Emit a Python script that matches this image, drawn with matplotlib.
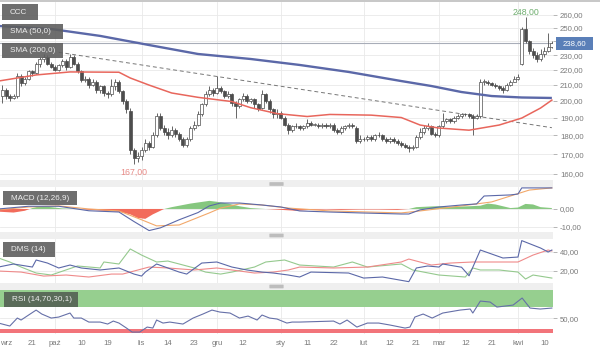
import matplotlib
matplotlib.use("Agg")
import matplotlib.pyplot as plt
from matplotlib.patches import Rectangle, FancyBboxPatch
from matplotlib.ticker import FixedLocator, NullLocator

plt.rcParams['font.family'] = ['Liberation Sans', 'DejaVu Sans']

# ---- price candles (one per session, index 0 = first visible session) ----
opens = [203, 207, 203, 202, 203, 216, 211, 214, 219, 218, 224, 227, 229, 224, 222, 220, 223, 226, 222, 229,
         224, 219, 213, 214, 210, 212, 207, 209, 205, 204, 209, 212, 206, 200, 194, 172, 168, 169, 172, 176,
         174, 180, 191, 184, 182, 180, 183, 181, 178, 175, 178, 184, 186, 192, 198, 204, 207, 205, 208, 206,
         203, 204, 199, 197, 201, 203, 200, 201, 198, 196, 204, 200, 195, 192, 193, 190, 186, 183, 185, 185,
         184, 185, 187, 186, 186, 185, 186, 185, 186, 183, 182, 184, 185, 186, 184, 177, 178, 178, 179, 178,
         180, 180, 178, 177, 178, 177, 176, 175, 174, 173, 174, 179, 182, 184, 185, 181, 180, 185, 188, 189,
         188, 190, 191, 192, 192, 191, 190, 191, 212, 212, 211, 210, 209, 208, 207, 210, 212, 214, 224, 249,
         240, 233, 230, 227, 231, 233, 236]
highs = [210, 208, 204, 204, 218, 217, 215, 220, 220, 225, 229, 231, 230, 225, 223, 224, 227, 227, 231, 230,
         225, 220, 216, 215, 214, 213, 210, 210, 206, 214, 214, 213, 207, 201, 196, 173, 171, 174, 178, 177,
         182, 193, 193, 186, 184, 185, 184, 182, 179, 179, 185, 188, 194, 199, 206, 209, 208, 216, 209, 207,
         206, 205, 200, 202, 205, 204, 202, 202, 199, 207, 205, 201, 196, 195, 194, 191, 187, 186, 187, 186,
         186, 189, 188, 187, 187, 187, 187, 187, 187, 184, 185, 186, 187, 187, 185, 180, 179, 180, 180, 181,
         182, 181, 179, 179, 179, 178, 177, 176, 175, 175, 180, 184, 186, 187, 186, 182, 186, 193, 190, 190,
         191, 192, 193, 193, 193, 192, 192, 214, 214, 213, 212, 211, 210, 209, 211, 213, 216, 217, 251, 258,
         241, 235, 232, 234, 236, 246, 240]
lows = [199, 201, 200, 201, 202, 209, 210, 213, 216, 217, 222, 225, 223, 221, 219, 219, 222, 220, 221, 223,
        218, 212, 212, 208, 209, 205, 205, 203, 202, 203, 207, 205, 198, 193, 170, 165, 166, 167, 171, 172,
        173, 179, 183, 180, 178, 179, 179, 177, 174, 174, 177, 183, 185, 191, 197, 203, 203, 204, 205, 202,
        202, 197, 190, 196, 200, 199, 199, 196, 194, 195, 199, 193, 190, 190, 189, 185, 181, 182, 184, 183,
        183, 184, 185, 185, 184, 184, 184, 184, 182, 181, 181, 183, 184, 184, 176, 176, 177, 177, 177, 177,
        179, 177, 176, 176, 176, 175, 174, 173, 171, 172, 173, 178, 181, 183, 180, 179, 179, 184, 187, 187,
        187, 189, 190, 191, 190, 180, 189, 190, 210, 210, 209, 208, 207, 205, 206, 209, 212, 213, 223, 239,
        231, 228, 225, 226, 229, 232, 235]
closes = [207, 203, 202, 203, 216, 211, 214, 219, 218, 224, 227, 229, 224, 222, 220, 223, 226, 222, 229, 224,
          219, 213, 214, 210, 212, 207, 209, 205, 204, 209, 212, 206, 200, 195, 172, 168, 169, 172, 176, 174,
          180, 191, 184, 182, 180, 183, 181, 178, 175, 178, 184, 186, 192, 198, 204, 207, 205, 208, 206, 203,
          204, 199, 197, 201, 203, 200, 201, 198, 195, 204, 200, 195, 192, 193, 190, 186, 183, 185, 185, 184,
          185, 187, 186, 186, 185, 186, 185, 186, 183, 182, 184, 185, 186, 185, 177, 178, 178, 179, 178, 180,
          180, 178, 177, 178, 177, 176, 175, 174, 173, 174, 179, 182, 184, 185, 181, 180, 185, 188, 189, 188,
          190, 191, 192, 192, 191, 190, 191, 212, 212, 211, 210, 209, 208, 207, 210, 212, 214, 215, 249, 240,
          233, 230, 227, 231, 233, 236, 238.6]

last_price = 238.6
max_label = "248,00"
min_label = "167,00"

# moving averages, read at a few sessions
sma50_idx = [-1, 9, 18, 31, 34, 39, 45, 52, 61, 66, 73, 81, 87, 98, 106, 111, 116, 124, 132, 138, 143, 146]
sma50_val = [212.5, 216.5, 218.5, 218.3, 214.5, 209.9, 204.9, 202.2, 199.6, 195.9, 192.4, 190.7, 191.9, 191.5,
             190.1, 185.8, 184.1, 182.9, 185.8, 189.8, 195.7, 200.5]
sma200_idx = [-1, 13, 26, 39, 52, 66, 79, 92, 106, 114, 122, 130, 138, 146]
sma200_val = [251.4, 249.1, 243.9, 237.2, 230.8, 227.3, 223.2, 218.5, 212.5, 209.3, 205.5, 203.0, 202.1, 201.8]
trend_idx = [15, 146]
trend_val = [232.0, 184.3]

# MACD (12,26,9)
macd_idx = [-1, 7, 15, 23, 31, 35, 39, 42, 47, 52, 55, 58, 63, 69, 74, 79, 87, 95, 106, 108, 111, 116, 122,
            126, 128, 135, 137, 138, 146]
macd_val = [0, 1.5, 1.5, -1, -1.7, -7, -12, -10.5, -6, -2, 1.7, 3.3, 3.3, 2.2, 1.1, -1.1, -1.7, -2.2, -2.8,
            -2.8, -0.5, 1.1, 2.2, 2.8, 7.2, 7.8, 8.3, 11.7, 11.7]
signal_idx = [-1, 7, 15, 23, 31, 37, 41, 47, 55, 58, 63, 69, 76, 87, 106, 111, 122, 130, 135, 140, 146]
signal_val = [-0.5, 1.1, 1.7, 0, -1.1, -6, -9.4, -8.9, -2.2, 0.5, 2.8, 2.2, 0.5, -1.1, -2.2, -1.1, 1.7, 3.9,
              7.2, 10.5, 11.7]
hist_idx = [-1, 3, 6, 8, 10, 13, 16, 20, 23, 27, 31, 34, 36, 38, 40, 42, 43, 45, 50, 55, 57, 60, 63, 66, 70,
            74, 78, 82, 86, 90, 95, 100, 105, 108, 110, 115, 120, 124, 127, 129, 131, 133, 135, 137, 139, 141,
            143, 146]
hist_val = [-1.5, -2, -1, 0.5, 1.5, 1, 0.3, 0.2, -0.5, -1, -1.5, -3, -5, -5.5, -3, -1, 0, 1, 3, 4.5, 4, 3, 1.5,
            0.5, 0, -0.5, -1, -0.5, -0.3, -0.5, -0.3, -0.3, -0.5, 0, 1, 1.5, 1.2, 1.5, 1.8, 3, 2.5, 1.5, 0.5,
            0.8, 2.8, 2.5, 1, 0.5]

# DMS (14)
dms_blue_idx = [-1, 3, 8, 9, 12, 15, 18, 21, 26, 31, 35, 37, 38, 41, 44, 47, 49, 53, 57, 61, 65, 69, 72, 76,
                79, 82, 92, 96, 101, 108, 110, 113, 116, 117, 122, 124, 127, 133, 137, 138, 143, 145, 146]
dms_blue_val = [24.2, 27.4, 24.2, 31.6, 28.4, 23.2, 26.3, 23.2, 21.1, 23.2, 16.8, 14.7, 18.9, 27.4, 23.2, 18.9,
                16.8, 28.4, 29.5, 24.2, 21.1, 18.9, 17.9, 15.8, 13.7, 18.9, 17.9, 12.6, 13.7, 8.8, 23.2, 25.3,
                24.2, 27.4, 24.0, 15.0, 42.1, 33.7, 34.7, 52.0, 44.2, 40.0, 42.1]
dms_green_idx = [-1, 2, 5, 9, 13, 20, 26, 27, 31, 34, 37, 41, 44, 47, 51, 54, 58, 61, 67, 70, 75, 79, 88, 93,
                 97, 106, 109, 116, 123, 125, 127, 132, 137, 139, 141, 146]
dms_green_val = [33.7, 29.5, 24.2, 17.9, 15.8, 25.3, 23.2, 29.5, 27.4, 43.2, 36.8, 29.5, 30.5, 27.4, 23.2, 18.9,
                 16.8, 18.9, 24.2, 29.5, 31.6, 26.3, 24.2, 29.5, 24.2, 27.4, 21.1, 15.8, 13.7, 23.2, 21.1, 21.1,
                 18.9, 11.6, 15.8, 12.6]
dms_red_idx = [-1, 5, 11, 17, 23, 29, 32, 35, 39, 44, 51, 57, 61, 67, 72, 76, 79, 88, 97, 106, 108, 114, 119,
               125, 132, 137, 141, 145, 146]
dms_red_val = [20, 18.9, 14.7, 15.8, 13.7, 16.8, 16.8, 20, 24.2, 23.2, 21.1, 23.2, 21.1, 17.9, 18.9, 21.1, 24.2,
               23.2, 24.2, 29.5, 32.6, 26.3, 28.4, 29.5, 29.5, 29.5, 36.8, 42.1, 41.1]

# RSI (14,70,30,1)
rsi_idx = [-1, 2, 4, 5, 7, 9, 10.5, 13, 15, 18, 19, 21, 23, 26, 28, 29.5, 31, 33, 34.5, 36.5, 38.5, 40, 41,
           42.7, 44.5, 48, 50.7, 53.3, 55.7, 57.8, 60.5, 63, 65.3, 67.7, 69, 71, 73, 75.6, 77, 79, 88, 89.7,
           91.6, 94.2, 97, 100, 103, 105.7, 107, 108.3, 109.6, 111.8, 114.2, 117, 121.6, 124.3, 125, 127,
           129.6, 131.4, 135.7, 138.1, 140.2, 142.9, 146]
rsi_val = [40.9, 35.5, 50, 46.4, 55.5, 64.5, 57.3, 50, 51.8, 59.1, 50, 50, 42.7, 42.7, 39.1, 44.5, 40.9, 31.8,
           24.5, 24.5, 33.6, 31.8, 46.4, 40.9, 42.7, 39.1, 50, 57.3, 64.5, 60.9, 59.1, 50, 53.6, 46.4, 55.5, 50,
           48.2, 40.9, 42.7, 42.7, 44.5, 39.1, 46.4, 33.6, 40.9, 40.9, 37.3, 33.6, 31.8, 33.6, 51.8, 57.3, 50,
           59.1, 64.5, 66.4, 59.1, 80.9, 79.1, 70, 73.6, 86.4, 68.2, 66.4, 68.2]

# axis labels
price_ticks = [160, 170, 180, 190, 200, 210, 220, 230, 240, 250, 260]
price_tick_labels = ['160,00', '170,00', '180,00', '190,00', '200,00', '210,00', '220,00', '230,00', '',
                     '250,00', '260,00']
macd_ticks = [0, -10]
macd_tick_labels = ["0,00", "-10,00"]
dms_ticks = [40, 20]
rsi_ticks = [50]
month_idx = [14, 37, 57, 74, 96, 116, 137]
date_idx = [1, 8, 14, 21, 28, 37, 44, 51, 57, 64, 74, 81, 88, 96, 103, 110, 116, 123, 130, 137, 144]
date_labels = ['wrz', '21', 'paź', '10', '19', 'lis', '14', '23', 'gru', '12', 'sty', '11', '22', 'lut',
               '12', '21', 'mar', '12', '21', 'kwi', '10']

# ---- layout ----
W, H = 600, 352
fig = plt.figure(figsize=(6, 3.52), dpi=100)
XL = (-0.6, 146.3)
dark = '#4d4d4d'
grid_c = '#e9e9e9'
txt_c = '#7a7a7a'
fs = 5.6


def px_axes(x0, y0, x1, y1):
    return fig.add_axes([x0 / W, 1 - y1 / H, (x1 - x0) / W, (y1 - y0) / H])


def fmt(v):
    return f"{v:.2f}".replace('.', ',')


def style(a, ticks, labels=None):
    a.set_xlim(*XL)
    for s in a.spines.values():
        s.set_visible(False)
    a.yaxis.tick_right()
    a.yaxis.set_major_locator(FixedLocator(ticks))
    a.yaxis.set_minor_locator(NullLocator())
    a.set_yticklabels(labels if labels else [fmt(t) for t in ticks])
    a.tick_params(axis='y', length=3, width=0.6, color='#aaaaaa', pad=2, labelsize=fs, labelcolor=txt_c)
    a.set_xticks([])
    for t in ticks:
        a.axhline(t, color=grid_c, lw=0.6, zorder=0)
    for m in month_idx:
        a.axvline(m, color=grid_c, lw=0.6, zorder=0)


def box(x0, y0, x1, y1, text, fc='#5e5e5e', alpha=0.9):
    fig.add_artist(Rectangle((x0 / W, 1 - y1 / H), (x1 - x0) / W, (y1 - y0) / H, transform=fig.transFigure,
                             fc=fc, ec='none', alpha=alpha, zorder=10))
    fig.text((x0 + 8) / W, 1 - (y0 + y1) / 2 / H, text, color='#eeeeee', fontsize=5.9, va='center', ha='left',
             zorder=11)


# main price panel
ax = px_axes(0, 2, 553, 180)
ax.set_yscale('log')
ax.set_ylim(157.1, 270.5)
style(ax, price_ticks, price_tick_labels)
for i in range(len(closes)):
    o, h, l, c = opens[i], highs[i], lows[i], closes[i]
    ax.vlines(i, l, h, color=dark, lw=0.6, zorder=3)
    ax.bar(i, max(abs(c - o), 0.3), bottom=min(o, c), width=0.8,
           color='white' if c >= o else dark, edgecolor=dark, lw=0.5, zorder=4)
ax.plot(sma200_idx, sma200_val, color='#5b68a8', lw=1.7, zorder=5, solid_capstyle='butt')
ax.plot(sma50_idx, sma50_val, color='#e8665c', lw=1.1, zorder=5)
ax.plot(trend_idx, trend_val, color='#777777', lw=0.7, ls=(0, (4, 3)), zorder=2)
ax.axhline(last_price, color='#a8adb8', lw=0.8, zorder=2)
i_max = highs.index(max(highs))
i_min = lows.index(min(lows))
ax.text(i_max, 262.5, max_label, color='#6fae6f', fontsize=6.3, ha='center', va='center')
ax.text(i_min, 160.9, min_label, color='#e88a86', fontsize=6.3, ha='center', va='center')

# MACD panel
am = px_axes(0, 187, 553, 232)
am.set_ylim(-12.8, 12.2)
style(am, macd_ticks, macd_tick_labels)
am.fill_between(hist_idx, hist_val, 0, where=[v >= 0 for v in hist_val], interpolate=True,
                color='#86c77f', lw=0, zorder=2)
am.fill_between(hist_idx, hist_val, 0, where=[v <= 0 for v in hist_val], interpolate=True,
                color='#f26b5b', lw=0, zorder=2)
am.plot(signal_idx, signal_val, color='#f2a86a', lw=0.8, zorder=3)
am.plot(macd_idx, macd_val, color='#5b68a8', lw=0.8, zorder=4)

# DMS panel
ad = px_axes(0, 239, 553, 283)
ad.set_ylim(7.4, 53.7)
style(ad, dms_ticks)
ad.plot(dms_green_idx, dms_green_val, color='#95c98e', lw=0.8)
ad.plot(dms_red_idx, dms_red_val, color='#ef8a8a', lw=0.8)
ad.plot(dms_blue_idx, dms_blue_val, color='#5b68a8', lw=0.8)

# RSI panel
ar = px_axes(0, 290, 553, 334)
ar.set_ylim(21, 101)
style(ar, rsi_ticks)
ar.axhspan(70, 101, color='#96cf8f', lw=0, zorder=1)
ar.axhspan(23.5, 30, color='#f2747a', lw=0, zorder=1)
ar.plot(rsi_idx, rsi_val, color='#6670a8', lw=0.8, zorder=3)
ar.set_xticks(date_idx)
ar.set_xticklabels(date_labels)
ar.tick_params(axis='x', length=0, pad=4, labelsize=fs, labelcolor=txt_c)

# separators and handles
fig.add_artist(Rectangle((0, 1 - 2 / H), 1, 2 / H, transform=fig.transFigure, fc='#c8c8c8', ec='none'))
for y0, y1 in [(180, 187), (232, 239), (283, 290)]:
    fig.add_artist(Rectangle((0, 1 - y1 / H), 553 / W, (y1 - y0) / H, transform=fig.transFigure,
                             fc='#efefef', ec='none'))
for yc in [184, 235.5, 286.5]:
    fig.add_artist(FancyBboxPatch((270 / W, 1 - (yc + 1.5) / H), 13 / W, 3 / H,
                                  boxstyle='round,pad=0.001', transform=fig.transFigure,
                                  fc='#bdbdbd', ec='none'))

# legend boxes
box(2, 4, 38, 20, 'CCC')
box(2, 24, 63, 39, 'SMA (50,0)')
box(2, 43, 63, 58, 'SMA (200,0)')
box(3, 191, 77, 205, 'MACD (12,26,9)')
box(3, 242, 55, 257, 'DMS (14)')
box(4, 292, 78, 307, 'RSI (14,70,30,1)', fc='#505a50', alpha=0.85)

# last price tag
fig.add_artist(Rectangle((556 / W, 1 - 50 / H), 37 / W, 13 / H, transform=fig.transFigure,
                         fc='#5a7fb8', ec='none', zorder=10))
fig.text(574.5 / W, 1 - 43.5 / H, fmt(last_price), color='white', fontsize=fs, ha='center', va='center',
         zorder=11)

fig.savefig('out.png', dpi=100)
